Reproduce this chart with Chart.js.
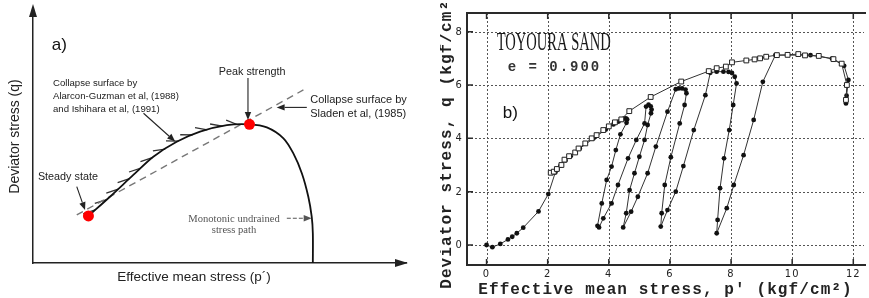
<!DOCTYPE html>
<html><head><meta charset="utf-8">
<script src="https://cdn.jsdelivr.net/npm/chart.js@4/dist/chart.umd.min.js"></script>
<style>
html,body{margin:0;padding:0;background:#fff;overflow:hidden}
#wrap{position:relative;width:869px;height:298px;background:#fff}
#ca{position:absolute;left:0;top:0}
#cb{position:absolute;left:440px;top:0}
</style></head><body>
<div id="wrap"><canvas id="ca" width="440" height="298"></canvas><canvas id="cb" width="429" height="298"></canvas></div>
<script>
// ---------- Panel a) schematic (arbitrary units 0..100) ----------
const aCurveP = [14.7,20.4,26.6,31.9,38.1,44.3,51.4,57.4,62.0,66.4,69.0,71.3,73.0,73.9,74.2,74.2];
const aCurveQ = [18.6,26.2,34.8,42.0,47.9,51.9,54.5,54.8,53.6,49.3,43.4,35.4,26.2,18.3,11.7,0];
const aDashP = [11.6,71.7];
const aDashQ = [19.0,68.4];
const aStateP = [14.7,57.4];
const aStateQ = [18.6,54.8];

// ---------- Panel b) Toyoura sand, e = 0.900 ----------
const bTicksX = [0,2,4,6,8,10,12];
const bTicksY = [0,2,4,6,8];
const cycP = [0,0.19,0.45,0.70,0.84,0.99,1.20,1.70,2.02,2.25,2.32,2.42,2.58,2.75,3.05,3.50,3.90,4.15,4.32,4.42,4.50,4.56,4.60,4.58,
  4.38,4.23,4.09,3.93,3.77,3.63,3.68,
  3.82,4.09,4.30,4.63,4.90,5.17,5.22,5.30,5.37,5.40,5.38,
  5.27,5.17,5.00,4.84,4.68,4.57,4.47,
  4.73,4.95,5.27,5.54,5.92,6.19,6.29,6.40,6.51,6.54,
  6.48,6.32,6.03,5.83,5.73,5.70,
  5.92,6.19,6.44,6.78,7.16,7.32,7.53,7.75,7.92,8.03,8.12,8.18,
  8.07,7.94,7.77,7.64,7.56,7.53,
  7.86,8.09,8.41,8.74,9.04,9.45,
  10.60,11.30,11.70,11.84,11.78,11.76];
const cycQ = [0,-0.08,0.04,0.21,0.31,0.44,0.65,1.26,1.91,2.72,2.84,2.98,3.17,3.33,3.62,4.00,4.33,4.52,4.63,4.70,4.74,4.75,4.71,4.58,
  4.15,3.56,2.94,2.44,1.56,0.72,0.66,
  1.00,1.56,2.25,3.25,3.94,4.56,5.19,5.26,5.20,5.08,4.94,
  4.50,3.94,3.31,2.69,2.06,1.19,0.66,
  1.25,1.81,2.69,3.69,5.00,5.84,5.87,5.87,5.83,5.69,
  5.25,4.56,3.29,2.25,1.19,0.69,
  1.31,2.00,2.96,4.31,5.62,6.46,6.50,6.50,6.49,6.45,6.31,6.06,
  5.25,4.31,3.25,2.13,0.94,0.44,
  1.38,2.25,3.37,4.69,6.12,7.12,
  7.12,6.99,6.72,6.19,5.60,5.31];
const envP = [2.10,2.20,2.30,2.45,2.55,2.70,2.90,3.01,3.23,3.44,3.60,3.82,4.00,4.20,4.41,4.67,5.37,6.37,7.27,7.53,7.83,8.03,8.50,8.77,8.95,9.15,9.50,9.85,10.20,10.42,10.87,11.35,11.62,11.79,11.76];
const envQ = [2.71,2.75,2.85,3.00,3.20,3.33,3.47,3.62,3.81,4.00,4.12,4.31,4.45,4.60,4.71,5.02,5.55,6.13,6.52,6.63,6.69,6.85,6.92,6.96,7.00,7.06,7.12,7.13,7.16,7.11,7.09,6.97,6.80,6.00,5.44];

const pts = (xs, ys) => xs.map((x, i) => ({x: x, y: ys[i]}));
const SANS = '"Liberation Sans", Arial, sans-serif';
const SERIF = '"Liberation Serif", "Times New Roman", serif';
const MONO = '"Liberation Mono", "DejaVu Sans Mono", monospace';
const NARROW = '"Liberation Sans Narrow", "DejaVu Sans Condensed", sans-serif';

function arrow(ctx, x1, y1, x2, y2, o) {
  o = o || {};
  const color = o.color || '#222', head = o.head || 7, w = o.width || 1;
  ctx.save();
  ctx.strokeStyle = color; ctx.fillStyle = color; ctx.lineWidth = w;
  const ang = Math.atan2(y2 - y1, x2 - x1);
  const bx = x2 - head * Math.cos(ang), by = y2 - head * Math.sin(ang);
  if (o.dash) ctx.setLineDash(o.dash);
  ctx.beginPath(); ctx.moveTo(x1, y1); ctx.lineTo(bx, by); ctx.stroke();
  ctx.setLineDash([]);
  const hw = head * 0.4;
  ctx.beginPath(); ctx.moveTo(x2, y2);
  ctx.lineTo(bx + hw * Math.sin(ang), by - hw * Math.cos(ang));
  ctx.lineTo(bx - hw * Math.sin(ang), by + hw * Math.cos(ang));
  ctx.closePath(); ctx.fill();
  ctx.restore();
}

// annotation layout for panel a (in the panel's own units)
const aTexts = [
  {t:'a)', p:5.0, q:86.2, s:17, f:SANS, c:'#111', al:'left'},
  {t:'Peak strength', p:58.1, q:75.4, s:10.8, f:SANS, c:'#222', al:'center'},
  {t:'Collapse surface by', p:5.3, q:70.9, s:9.6, f:SANS, c:'#222', al:'left'},
  {t:'Alarcon-Guzman et al, (1988)', p:5.3, q:65.7, s:9.6, f:SANS, c:'#222', al:'left'},
  {t:'and Ishihara et al, (1991)', p:5.3, q:60.6, s:9.6, f:SANS, c:'#222', al:'left'},
  {t:'Collapse surface by', p:73.5, q:64.5, s:11, f:SANS, c:'#222', al:'left'},
  {t:'Sladen et al, (1985)', p:73.5, q:59.0, s:11, f:SANS, c:'#222', al:'left'},
  {t:'Steady state', p:1.3, q:33.9, s:10.8, f:SANS, c:'#222', al:'left'},
  {t:'Monotonic undrained', p:53.3, q:17.5, s:10.6, f:SERIF, c:'#555', al:'center'},
  {t:'stress path', p:53.3, q:13.0, s:10.6, f:SERIF, c:'#555', al:'center'}
];
const aArrows = [
  {p1:57.0, q1:73.1, p2:57.0, q2:56.5},
  {p1:29.3, q1:59.2, p2:37.7, q2:48.0},
  {p1:72.6, q1:61.5, p2:64.6, q2:61.5},
  {p1:11.6, q1:30.2, p2:13.8, q2:20.9},
  {p1:67.3, q1:17.7, p2:73.9, q2:17.7, color:'#555', dash:[4,2]}
];

const panelA = {
  id: 'panelA',
  beforeDatasetsDraw(c) {
    // hatching on the collapse surface (rising part of the curve)
    const ctx = c.ctx, meta = c.getDatasetMeta(1);
    const P = meta.data.slice(0, 8).map(e => ({x: e.x, y: e.y}));
    ctx.save(); ctx.strokeStyle = '#333'; ctx.lineWidth = 1.3;
    let next = 9, acc = 0;
    const rot = 24 * Math.PI / 180, len = 12.5;
    ctx.beginPath();
    for (let i = 0; i < P.length - 1; i++) {
      const dx = P[i+1].x - P[i].x, dy = P[i+1].y - P[i].y, L = Math.hypot(dx, dy);
      const bang = Math.atan2(-dy, -dx);   // backward tangent (left/down on screen)
      const hang = bang + rot;             // rotated so the barb sits above the curve
      while (next <= acc + L) {
        const t = (next - acc) / L, x = P[i].x + dx * t, y = P[i].y + dy * t;
        ctx.moveTo(x, y); ctx.lineTo(x + len * Math.cos(hang), y + len * Math.sin(hang));
        next += 15.5;
      }
      acc += L;
    }
    ctx.stroke(); ctx.restore();
  },
  afterDraw(c) {
    const ctx = c.ctx, x = c.scales.x, y = c.scales.y, a = c.chartArea;
    ctx.save(); ctx.fillStyle = '#222';
    ctx.beginPath(); ctx.moveTo(a.left, 4); ctx.lineTo(a.left - 4, 17); ctx.lineTo(a.left + 4, 17); ctx.closePath(); ctx.fill();
    ctx.beginPath(); ctx.moveTo(a.right + 2, a.bottom); ctx.lineTo(a.right - 11, a.bottom - 4); ctx.lineTo(a.right - 11, a.bottom + 4); ctx.closePath(); ctx.fill();
    ctx.restore();
    aArrows.forEach(r => arrow(ctx, x.getPixelForValue(r.p1), y.getPixelForValue(r.q1), x.getPixelForValue(r.p2), y.getPixelForValue(r.q2), {color: r.color || '#222', dash: r.dash, head: 8, width: 1.1}));
    ctx.save(); ctx.textBaseline = 'middle';
    aTexts.forEach(t => {
      ctx.font = t.s + 'px ' + t.f; ctx.fillStyle = t.c; ctx.textAlign = t.al;
      ctx.fillText(t.t, x.getPixelForValue(t.p), y.getPixelForValue(t.q));
    });
    ctx.font = '13.5px ' + SANS; ctx.fillStyle = '#222'; ctx.textAlign = 'center';
    ctx.fillText('Effective mean stress (p\u00b4)', 194, 277);
    ctx.restore();
  }
};

new Chart(document.getElementById('ca'), {
  type: 'scatter',
  data: {datasets: [
    {label: 'Steady state / Peak strength', data: pts(aStateP, aStateQ), pointRadius: 5.5, pointBackgroundColor: '#ff0000', pointBorderWidth: 0, showLine: false},
    {label: 'Monotonic undrained stress path', data: pts(aCurveP, aCurveQ), showLine: true, borderColor: '#111', borderWidth: 1.8, pointRadius: 0, tension: 0.3, fill: false},
    {label: 'Collapse surface (Sladen et al, 1985)', data: pts(aDashP, aDashQ), showLine: true, borderColor: '#777', borderWidth: 1.4, borderDash: [7, 5], pointRadius: 0}
  ]},
  options: {
    responsive: false, animation: false, devicePixelRatio: 1,
    layout: {padding: {top: 10, right: 34, left: 0, bottom: 0}},
    plugins: {legend: {display: false}, tooltip: {enabled: false}},
    scales: {
      x: {min: 0, max: 98.9, ticks: {display: false}, grid: {display: false, drawTicks: false},
          border: {display: true, color: '#222', width: 1.5}, afterFit: s => { s.height = 35; }},
      y: {min: 0, max: 100, ticks: {display: false}, grid: {display: false, drawTicks: false},
          border: {display: true, color: '#222', width: 1.5},
          title: {display: true, text: 'Deviator stress (q)', color: '#222', font: {family: SANS, size: 14, lineHeight: 1.2}, padding: {top: 6.6, bottom: 0}},
          afterFit: s => { s.width = 33; }}
    }
  },
  plugins: [panelA]
});

// ---------- panel b ----------
const bTexts = [
  {t:'TOYOURA SAND', p:0.33, q:7.57, font:'26px ' + SERIF, sx:0.56, ls:'0px', c:'#1a1a1a'},
  {t:'e = 0.900', p:0.69, q:6.67, font:'bold 14px ' + MONO, sx:1, ls:'2px', c:'#333'},
  {t:'b)', p:0.53, q:4.95, font:'17px ' + SANS, sx:1, ls:'0px', c:'#111'}
];
const panelB = {
  id: 'panelB',
  beforeDraw(c) {
    try { c.ctx.letterSpacing = '1.1px'; } catch (e) {}
  },
  beforeDatasetsDraw(c) {
    const ctx = c.ctx, a = c.chartArea, x = c.scales.x, y = c.scales.y;
    ctx.save();
    ctx.strokeStyle = '#555'; ctx.lineWidth = 1; ctx.setLineDash([2, 2]);
    ctx.beginPath();
    bTicksX.forEach(v => { const px = Math.round(x.getPixelForValue(v)) + 0.5; ctx.moveTo(px, a.top); ctx.lineTo(px, a.bottom); });
    bTicksY.forEach(v => { const py = Math.round(y.getPixelForValue(v)) + 0.5; ctx.moveTo(a.left, py); ctx.lineTo(a.right, py); });
    ctx.stroke();
    ctx.restore();
  },
  afterDraw(c) {
    const ctx = c.ctx, a = c.chartArea, x = c.scales.x, y = c.scales.y;
    try { ctx.letterSpacing = '0px'; } catch (e) {}
    ctx.save();
    ctx.strokeStyle = '#2a2a2a'; ctx.lineWidth = 2;
    ctx.beginPath();
    ctx.moveTo(a.right + 2, a.top); ctx.lineTo(a.left, a.top); ctx.lineTo(a.left, a.bottom); ctx.lineTo(a.right + 2, a.bottom);
    ctx.stroke();
    ctx.lineWidth = 1.5; ctx.beginPath();
    bTicksX.forEach(v => { const px = x.getPixelForValue(v);
      ctx.moveTo(px, a.top); ctx.lineTo(px, a.top + 6); ctx.moveTo(px, a.bottom); ctx.lineTo(px, a.bottom - 6); });
    bTicksY.forEach(v => { const py = y.getPixelForValue(v); ctx.moveTo(a.left, py); ctx.lineTo(a.left + 6, py); });
    ctx.stroke();
    ctx.textBaseline = 'middle'; ctx.textAlign = 'left';
    bTexts.forEach(t => {
      ctx.save();
      ctx.font = t.font; ctx.fillStyle = t.c;
      try { ctx.letterSpacing = t.ls; } catch (e) {}
      ctx.translate(x.getPixelForValue(t.p), y.getPixelForValue(t.q));
      ctx.scale(t.sx, 1);
      ctx.fillText(t.t, 0, 0);
      ctx.restore();
    });
    ctx.restore();
  }
};

new Chart(document.getElementById('cb'), {
  type: 'scatter',
  data: {datasets: [
    {label: 'Drained path', data: pts(envP, envQ), showLine: true, borderColor: '#333', borderWidth: 1, pointStyle: 'rect', pointRadius: 3.4, pointBackgroundColor: '#fff', pointBorderColor: '#222', pointBorderWidth: 1},
    {label: 'Undrained cyclic path', data: pts(cycP, cycQ), showLine: true, borderColor: '#333', borderWidth: 1, pointRadius: 2.4, pointBackgroundColor: '#111', pointBorderWidth: 0}
  ]},
  options: {
    responsive: false, animation: false, devicePixelRatio: 1,
    layout: {padding: {top: 13, right: 0, left: 0, bottom: 0}},
    plugins: {legend: {display: false}, tooltip: {enabled: false}},
    scales: {
      x: {min: -0.64, max: 12.35,
          afterBuildTicks: s => { s.ticks = bTicksX.map(v => ({value: v})); },
          ticks: {font: {family: NARROW, size: 11}, color: '#222', padding: 3, autoSkip: false, maxRotation: 0},
          grid: {display: false, drawTicks: false},
          border: {display: false},
          title: {display: true, text: "Effective mean stress, p' (kgf/cm\u00b2)", color: '#222', font: {family: MONO, size: 16, weight: 'bold', lineHeight: 1}, padding: {top: 0, bottom: 0.5}},
          afterFit: s => { s.height = 33; }},
      y: {min: -0.75, max: 8.70,
          afterBuildTicks: s => { s.ticks = bTicksY.map(v => ({value: v})); },
          ticks: {font: {family: NARROW, size: 11}, color: '#222', padding: 4, autoSkip: false},
          grid: {display: false, drawTicks: false},
          border: {display: false},
          title: {display: true, text: 'Deviator stress, q (kgf/cm\u00b2)', color: '#222', font: {family: MONO, size: 16, weight: 'bold', lineHeight: 1}, padding: {top: -1, bottom: 0}},
          afterFit: s => { s.width = 27; }}
    }
  },
  plugins: [panelB]
});
</script>
</body></html>
